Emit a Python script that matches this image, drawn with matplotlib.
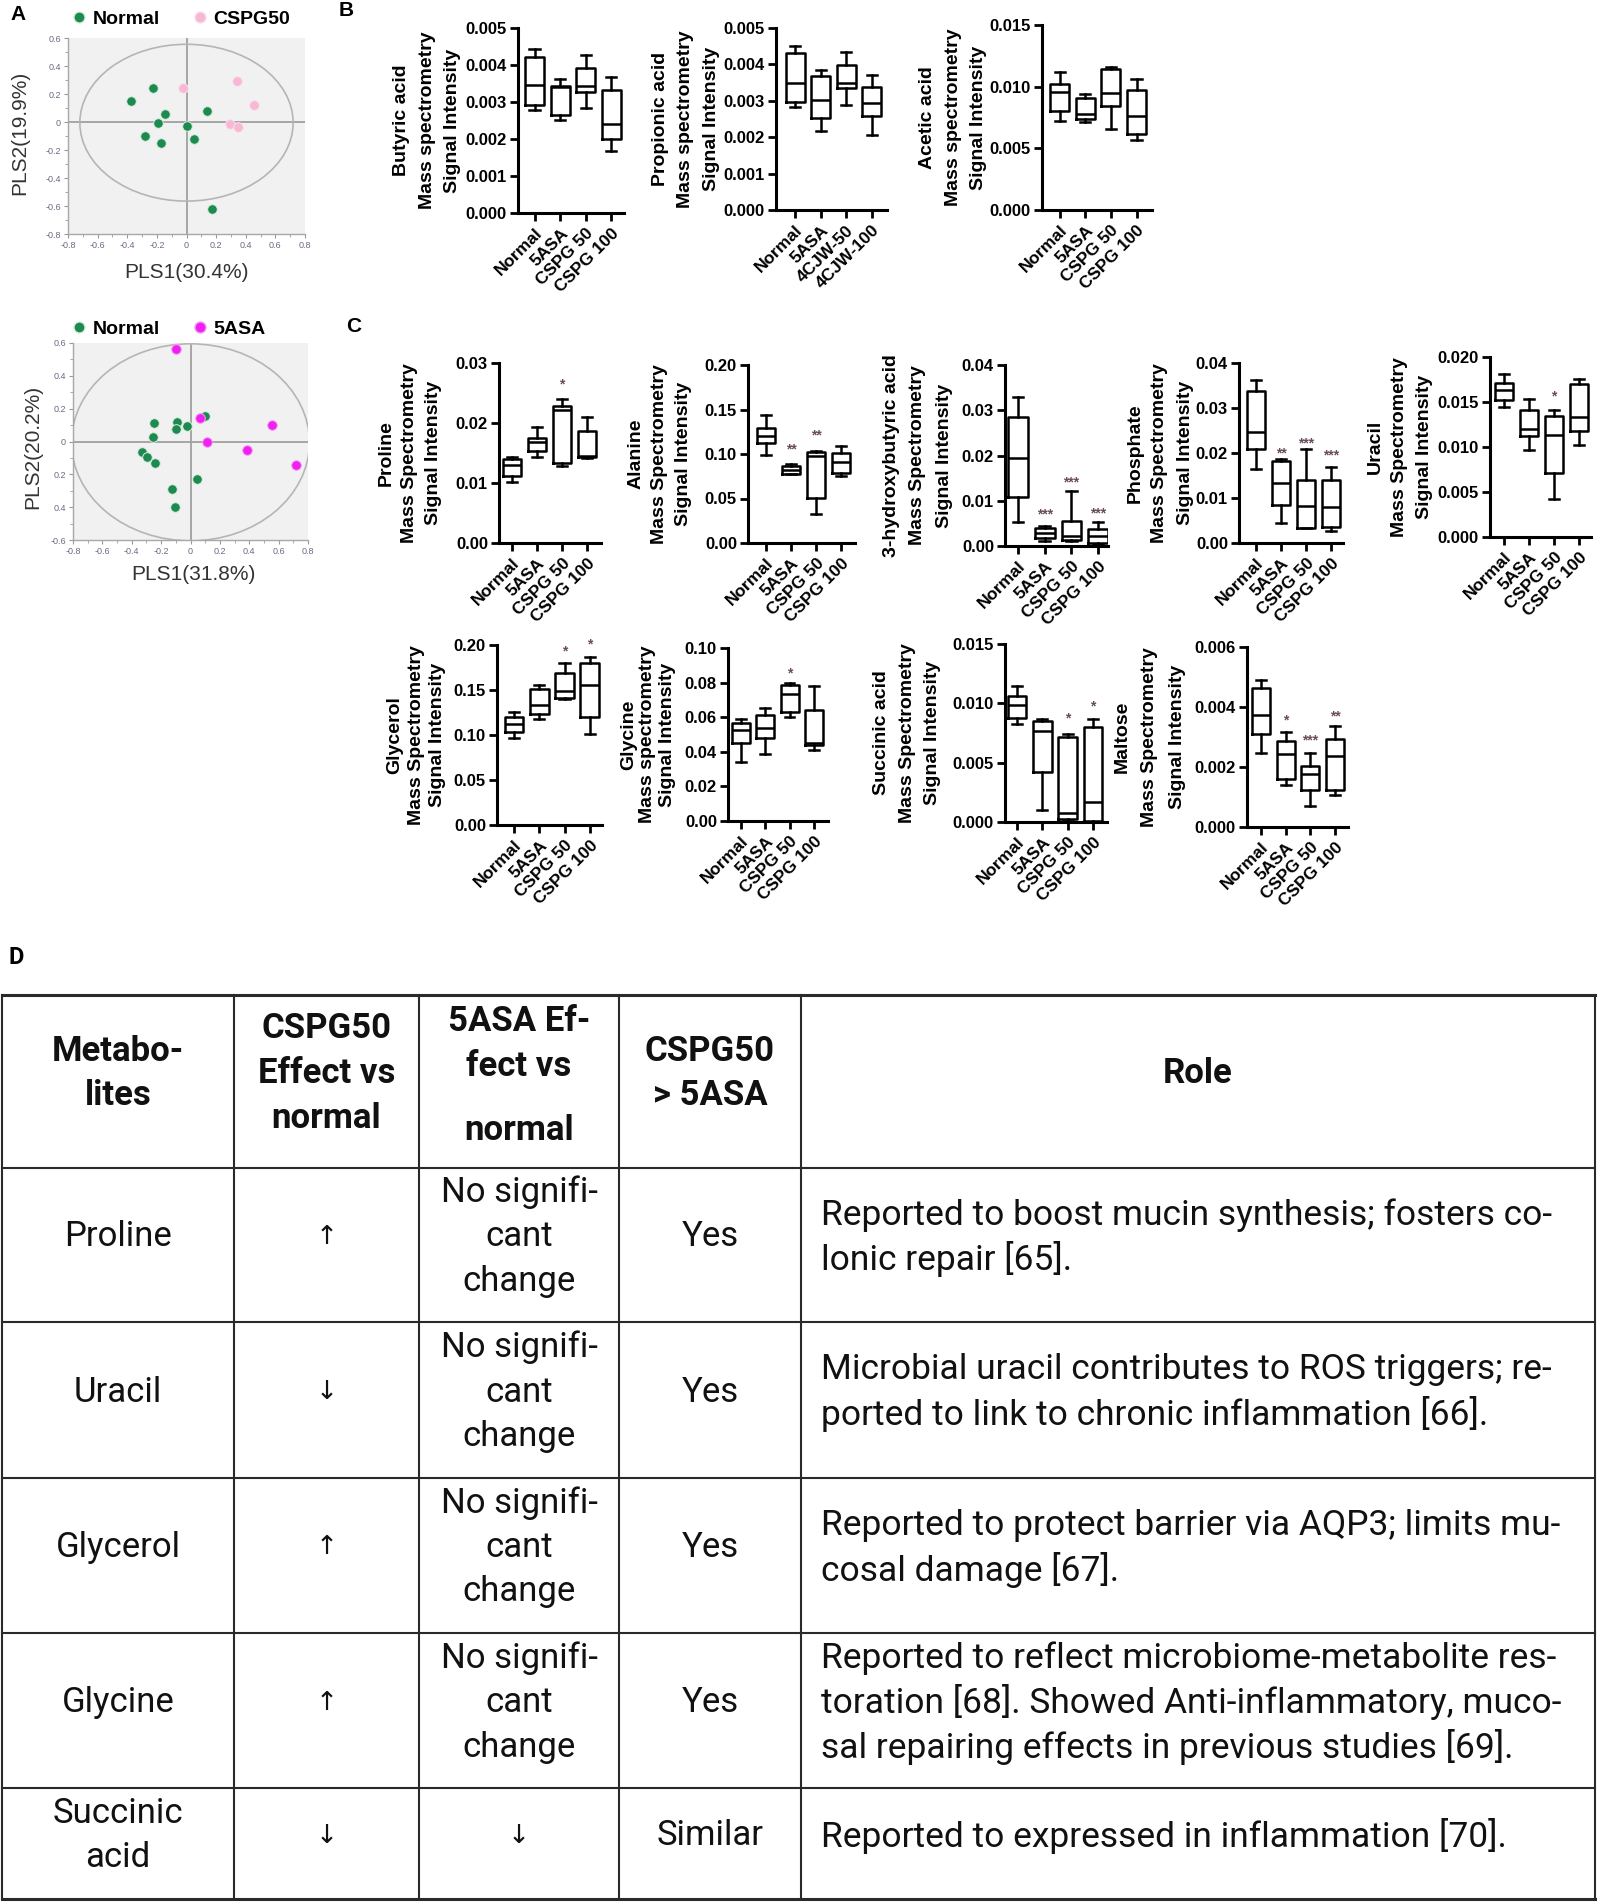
import matplotlib
matplotlib.use('Agg')
import matplotlib.pyplot as plt
from matplotlib.patches import Ellipse
from matplotlib.lines import Line2D
from matplotlib.ticker import MultipleLocator

plt.rcParams['font.family'] = ['Liberation Sans', 'DejaVu Sans']

# ---------------- Panel A data (PLS scores) ----------------
a1_normal_x = [-0.376, -0.223, -0.146, -0.194, -0.277, -0.173, 0.0, 0.054, 0.138, 0.171]
a1_normal_y = [0.149, 0.244, 0.059, -0.007, -0.098, -0.150, -0.026, -0.124, 0.078, -0.620]
a1_cspg_x = [-0.027, 0.341, 0.453, 0.293, 0.345]
a1_cspg_y = [0.244, 0.296, 0.125, -0.012, -0.038]

a2_normal_x = [-0.250, -0.093, -0.097, -0.026, 0.097, -0.255, -0.329, -0.299, -0.241, 0.042, -0.128, -0.104]
a2_normal_y = [0.114, 0.119, 0.078, 0.092, 0.153, 0.029, -0.061, -0.096, -0.133, -0.229, -0.290, -0.397]
a2_5asa_x = [-0.097, 0.065, 0.109, 0.385, 0.552, 0.719]
a2_5asa_y = [0.564, 0.143, 0.0, -0.051, 0.102, -0.141]

a_xticklabels = ['-0.8', '-0.6', '-0.4', '-0.2', '0', '0.2', '0.4', '0.6', '0.8']
a1_yticklabels = ['-0.8', '-0.6', '-0.4', '-0.2', '0', '0.2', '0.4', '0.6']
a2_yticklabels = ['-0.6', '0.4', '0.2', '0', '0.2', '0.4', '0.6']

# ---------------- Box plot data: (whislo, q1, med, q3, whishi) ----------------
groups = ['Normal', '5ASA', 'CSPG 50', 'CSPG 100']
groups_b2 = ['Normal', '5ASA', '4CJW-50', '4CJW-100']

butyric = [(0.00279, 0.00293, 0.00347, 0.00422, 0.00443), (0.00252, 0.00264, 0.00340, 0.00344, 0.00363),
           (0.00284, 0.00327, 0.00344, 0.00392, 0.00428), (0.00167, 0.00200, 0.00241, 0.00333, 0.00368)]
propionic = [(0.00283, 0.00298, 0.00349, 0.00431, 0.00450), (0.00218, 0.00252, 0.00303, 0.00367, 0.00385),
             (0.00289, 0.00335, 0.00349, 0.00399, 0.00433), (0.00206, 0.00257, 0.00294, 0.00338, 0.00372)]
acetic = [(0.0072, 0.0080, 0.0096, 0.0102, 0.0112), (0.0071, 0.0074, 0.0078, 0.0091, 0.0094),
          (0.0066, 0.0084, 0.0095, 0.0114, 0.0116), (0.0057, 0.0062, 0.0076, 0.0097, 0.0106)]
proline = [(0.0101, 0.0112, 0.0130, 0.0140, 0.0143), (0.0144, 0.0154, 0.0168, 0.0175, 0.0193),
           (0.0128, 0.0133, 0.0222, 0.0229, 0.0240), (0.0142, 0.0143, 0.0145, 0.0186, 0.0210)]
alanine = [(0.0986, 0.1118, 0.120, 0.1287, 0.1437), (0.0773, 0.078, 0.0825, 0.0866, 0.0893),
           (0.033, 0.0506, 0.0975, 0.1024, 0.1035), (0.075, 0.0788, 0.091, 0.1013, 0.1088)]
hydroxybutyric = [(0.0052, 0.0108, 0.0195, 0.0286, 0.0330), (0.0012, 0.0017, 0.0028, 0.0039, 0.0044),
                  (0.0010, 0.0013, 0.0022, 0.0055, 0.0122), (0.0004, 0.0007, 0.0021, 0.0037, 0.0052)]
phosphate = [(0.0165, 0.0208, 0.0247, 0.0337, 0.0362), (0.0045, 0.0085, 0.0133, 0.0183, 0.0187),
             (0.0033, 0.0033, 0.0083, 0.0140, 0.0210), (0.0027, 0.0035, 0.0080, 0.0140, 0.0168)]
uracil = [(0.0144, 0.0152, 0.0163, 0.0171, 0.01815), (0.0097, 0.0112, 0.0120, 0.0141, 0.0153),
          (0.0042, 0.0071, 0.0113, 0.0134, 0.0141), (0.0102, 0.0118, 0.0133, 0.0170, 0.0176)]
glycerol = [(0.0963, 0.103, 0.1122, 0.1204, 0.1259), (0.1174, 0.123, 0.1333, 0.1507, 0.1556),
            (0.1396, 0.1407, 0.1489, 0.1693, 0.1804), (0.1007, 0.1204, 0.1556, 0.1796, 0.1863)]
glycine = [(0.0340, 0.0448, 0.0525, 0.0564, 0.0587), (0.039, 0.0477, 0.0535, 0.0615, 0.0656),
           (0.0602, 0.063, 0.0733, 0.0785, 0.0798), (0.041, 0.0438, 0.0448, 0.064, 0.0783)]
succinic = [(0.0083, 0.0088, 0.0099, 0.01065, 0.0115), (0.0010, 0.0042, 0.0077, 0.0085, 0.0087),
            (0.0001, 0.00025, 0.0008, 0.0072, 0.0074), (0.0, 0.00005, 0.0017, 0.0080, 0.0087)]
maltose = [(0.00247, 0.00311, 0.00372, 0.00464, 0.0049), (0.00139, 0.00161, 0.00244, 0.00287, 0.00317),
           (0.0007, 0.00122, 0.00178, 0.00203, 0.00247), (0.00106, 0.00124, 0.00236, 0.00294, 0.00336)]

# significance marks: (group index, y value, text)
stars_proline = [(2, 0.0264, '*')]
stars_alanine = [(1, 0.105, '**'), (2, 0.121, '**')]
stars_hb = [(1, 0.0069, '***'), (2, 0.0140, '***'), (3, 0.0071, '***')]
stars_phosphate = [(1, 0.0200, '**'), (2, 0.0222, '***'), (3, 0.0195, '***')]
stars_uracil = [(2, 0.0156, '*')]
stars_glycerol = [(2, 0.193, '*'), (3, 0.2007, '*')]
stars_glycine = [(2, 0.085, '*')]
stars_succinic = [(2, 0.0087, '*'), (3, 0.0097, '*')]
stars_maltose = [(1, 0.00356, '*'), (2, 0.00287, '***'), (3, 0.0037, '**')]

# y tick values
yt_b = [0.000, 0.001, 0.002, 0.003, 0.004, 0.005]
yt_acetic = [0.000, 0.005, 0.010, 0.015]
yt_proline = [0.00, 0.01, 0.02, 0.03]
yt_alanine = [0.00, 0.05, 0.10, 0.15, 0.20]
yt_04 = [0.00, 0.01, 0.02, 0.03, 0.04]
yt_uracil = [0.000, 0.005, 0.010, 0.015, 0.020]
yt_glycerol = [0.00, 0.05, 0.10, 0.15, 0.20]
yt_glycine = [0.00, 0.02, 0.04, 0.06, 0.08, 0.10]
yt_succinic = [0.000, 0.005, 0.010, 0.015]
yt_maltose = [0.000, 0.002, 0.004, 0.006]

# ---------------- Table data ----------------
table_header = ['Metabo-\nlites', 'CSPG50\nEffect vs\nnormal', '5ASA Ef-\nfect vs\nnormal', 'CSPG50\n> 5ASA', 'Role']
table_metabolite = ['Proline', 'Uracil', 'Glycerol', 'Glycine', 'Succinic\nacid']
table_cspg50 = ['\u2191', '\u2193', '\u2191', '\u2191', '\u2193']
table_5asa = ['No signifi-\ncant\nchange', 'No signifi-\ncant\nchange', 'No signifi-\ncant\nchange',
              'No signifi-\ncant\nchange', '\u2193']
table_compare = ['Yes', 'Yes', 'Yes', 'Yes', 'Similar']
table_role = ['Reported to boost mucin synthesis; fosters co-\nlonic repair [65].',
              'Microbial uracil contributes to ROS triggers; re-\nported to link to chronic inflammation [66].',
              'Reported to protect barrier via AQP3; limits mu-\ncosal damage [67].',
              'Reported to reflect microbiome-metabolite res-\ntoration [68]. Showed Anti-inflammatory, muco-\nsal repairing effects in previous studies [69].',
              'Reported to expressed in inflammation [70].']

# ---------------- figure ----------------
W, H = 1599, 1902
fig = plt.figure(figsize=(W / 100, H / 100), dpi=100)
fig.patch.set_facecolor('white')


def add_ax(x0, y0, x1, y1):
    return fig.add_axes([x0 / W, 1 - y1 / H, (x1 - x0) / W, (y1 - y0) / H])


def ftext(x, y, s, **kw):
    return fig.text(x / W, 1 - y / H, s, **kw)


GREEN = '#1f8a4f'


def pls_panel(box, nx, ny, ox, oy, ocolor, oedge, olabel, ylim, yticklabels, ell, xlab, xlab_pos,
              ylab, ylab_pos, leg_anchor):
    ax = add_ax(*box)
    ax.set_facecolor('#f1f1f1')
    ax.set_xlim(-0.8, 0.8)
    ax.set_ylim(*ylim)
    ax.axhline(0, color='#a0a0a0', lw=1.3, zorder=1)
    ax.axvline(0, color='#a0a0a0', lw=1.3, zorder=1)
    ax.add_patch(Ellipse((0, -0.005), ell[0], ell[1], fill=False, ec='#b5b5b5', lw=1.2, zorder=1))
    ax.scatter(nx, ny, s=48, color=GREEN, edgecolors='#d8efe0', linewidths=0.7, zorder=3)
    ax.scatter(ox, oy, s=48, color=ocolor, edgecolors=oedge, linewidths=0.7, zorder=3)
    ax.xaxis.set_minor_locator(MultipleLocator(0.1))
    ax.yaxis.set_minor_locator(MultipleLocator(0.1))
    ax.set_xticks([-0.8 + 0.2 * i for i in range(9)])
    ax.set_xticklabels(a_xticklabels)
    yt = [ylim[0] + 0.2 * i for i in range(len(yticklabels))]
    ax.set_yticks(yt)
    ax.set_yticklabels(yticklabels)
    for s in ['top', 'right']:
        ax.spines[s].set_visible(False)
    for s in ['left', 'bottom']:
        ax.spines[s].set_color('#a8a8a8')
        ax.spines[s].set_linewidth(1.0)
    ax.tick_params(which='major', length=3, width=0.8, color='#999999', labelsize=6.5,
                   labelcolor='#6b6b85', pad=2)
    ax.tick_params(which='minor', length=2, width=0.6, color='#999999')
    handles = [Line2D([], [], marker='o', ls='', color=GREEN, ms=8, mec='#d8efe0'),
               Line2D([], [], marker='o', ls='', color=ocolor, ms=8, mec=oedge)]
    ax.legend(handles, ['Normal', olabel], ncol=2, loc='center left', bbox_to_anchor=leg_anchor,
              frameon=False, prop=dict(weight='bold', size=14), handletextpad=0.25,
              columnspacing=1.6, handlelength=0.9, borderaxespad=0, borderpad=0)
    ftext(xlab_pos[0], xlab_pos[1], xlab, ha='center', va='center', fontsize=15, color='#333333')
    ftext(ylab_pos[0], ylab_pos[1], ylab, ha='center', va='center', fontsize=15, color='#333333',
          rotation=90)


pls_panel((68, 38, 305, 234), a1_normal_x, a1_normal_y, a1_cspg_x, a1_cspg_y, '#f6b8d4', '#fbe0ec',
          'CSPG50', (-0.8, 0.6), a1_yticklabels, (1.44, 1.12), 'PLS1(30.4%)', (187, 272),
          'PLS2(19.9%)', (20, 133), (0.01, 1.095))
pls_panel((73, 343, 308, 540), a2_normal_x, a2_normal_y, a2_5asa_x, a2_5asa_y, '#f020f0', '#f7a0f7',
          '5ASA', (-0.6, 0.6), a2_yticklabels, (1.62, 1.2), 'PLS1(31.8%)', (193, 575),
          'PLS2(20.2%)', (33, 447), (-0.01, 1.07))


def box_panel(box, xlim, stats, yticks, ndec, ylabel, label_x, label_step, xlabels, stars=()):
    ax = add_ax(*box)
    st = [dict(whislo=s[0], q1=s[1], med=s[2], q3=s[3], whishi=s[4]) for s in stats]
    lw = 1.8
    ax.bxp(st, positions=list(range(len(st))), widths=0.74, capwidths=0.4, showfliers=False,
           boxprops=dict(color='black', lw=lw), whiskerprops=dict(color='black', lw=lw),
           capprops=dict(color='black', lw=lw), medianprops=dict(color='black', lw=lw),
           manage_ticks=False)
    ax.set_xlim(*xlim)
    ax.set_ylim(0, yticks[-1])
    ax.set_yticks(yticks)
    ax.set_yticklabels([('{:.%df}' % ndec).format(v) for v in yticks])
    ax.set_xticks(list(range(len(xlabels))))
    ax.set_xticklabels(xlabels, rotation=45, ha='right', rotation_mode='anchor')
    for s in ['top', 'right']:
        ax.spines[s].set_visible(False)
    for s in ['left', 'bottom']:
        ax.spines[s].set_linewidth(2.2)
    ax.tick_params(axis='both', length=6, width=2.0, labelsize=12, pad=2)
    ax.tick_params(axis='x', labelsize=12.5, pad=3)
    for lbl in ax.get_xticklabels() + ax.get_yticklabels():
        lbl.set_fontweight('bold')
    for gi, yv, txt in stars:
        ax.text(gi, yv, txt, ha='center', va='center', fontsize=10, fontweight='bold',
                color='#6a4c5c', clip_on=False)
    yc = (box[1] + box[3]) / 2
    ftext(label_x, yc, ylabel, rotation=90, ha='center', va='center', fontsize=14,
          fontweight='bold', linespacing=label_step / 14.5, multialignment='center')
    return ax


# Panel B
box_panel((518, 28, 624, 213), (-0.65, 3.5), butyric, yt_b, 3,
          'Butyric acid\nMass spectrometry\nSignal Intensity', 427, 23.5, groups)
box_panel((776, 28, 887, 210), (-0.75, 3.6), propionic, yt_b, 3,
          'Propionic acid\nMass spectrometry\nSignal Intensity', 686, 23.5, groups_b2)
box_panel((1042, 25, 1152, 210), (-0.69, 3.6), acetic, yt_acetic, 3,
          'Acetic acid\nMass spectrometry\nSignal Intensity', 953, 23.5, groups)

# Panel C row 1
box_panel((499, 363, 601, 543), (-0.52, 3.56), proline, yt_proline, 2,
          'Proline\nMass Spectrometry\nSignal Intensity', 410, 21.5, groups, stars_proline)
box_panel((748, 365, 855, 543), (-0.72, 3.56), alanine, yt_alanine, 2,
          'Alanine\nMass Spectrometry\nSignal Intensity', 660, 22, groups, stars_alanine)
box_panel((1005, 365, 1108, 546), (-0.49, 3.37), hydroxybutyric, yt_04, 2,
          '3-hydroxybutyric acid\nMass Spectrometry\nSignal Intensity', 918, 25, groups, stars_hb)
box_panel((1239, 363, 1343, 543), (-0.68, 3.48), phosphate, yt_04, 2,
          'Phosphate\nMass Spectrometry\nSignal Intensity', 1160, 23.5, groups, stars_phosphate)
box_panel((1490, 357, 1591, 537), (-0.56, 3.48), uracil, yt_uracil, 3,
          'Uracil\nMass Spectrometry\nSignal Intensity', 1400, 23, groups, stars_uracil)

# Panel C row 2
box_panel((497, 645, 602, 825), (-0.67, 3.48), glycerol, yt_glycerol, 2,
          'Glycerol\nMass Spectrometry\nSignal Intensity', 416, 19, groups, stars_glycerol)
box_panel((728, 648, 828, 821), (-0.53, 3.58), glycine, yt_glycine, 2,
          'Glycine\nMass spectrometry\nSignal Intensity', 648, 17.5, groups, stars_glycine)
box_panel((1005, 644, 1107, 822), (-0.47, 3.55), succinic, yt_succinic, 3,
          'Succinic acid\nMass Spectrometry\nSignal Intensity', 907, 24.5, groups, stars_succinic)
box_panel((1247, 647, 1348, 827), (-0.57, 3.53), maltose, yt_maltose, 3,
          'Maltose\nMass Spectrometry\nSignal Intensity', 1150, 26, groups, stars_maltose)

# Panel letters
ftext(18, 14, 'A', fontsize=15, fontweight='bold', ha='center', va='center')
ftext(346, 11, 'B', fontsize=15, fontweight='bold', ha='center', va='center')
ftext(354, 327, 'C', fontsize=15, fontweight='bold', ha='center', va='center')
ftext(16, 958, 'D', fontsize=17, fontweight='bold', ha='center', va='center',
      family=['Roboto', 'DejaVu Sans'])

# ---------------- Table (panel D) ----------------
col_x = [2, 234, 419, 619, 801, 1595]
row_y = [995, 1168, 1322, 1478, 1633, 1788, 1899]
for x in col_x:
    fig.add_artist(Line2D([x / W, x / W], [1 - row_y[0] / H, 1 - row_y[-1] / H],
                          transform=fig.transFigure, color='#2a2a2a', lw=1.5))
for i, y in enumerate(row_y):
    fig.add_artist(Line2D([col_x[0] / W, col_x[-1] / W], [1 - y / H, 1 - y / H],
                          transform=fig.transFigure, color='#2a2a2a',
                          lw=2.2 if i in (0, len(row_y) - 1) else 1.5))

TFONT = ['Roboto', 'DejaVu Sans']
LS = 44.5
YOFF = -8


def cell_lines(xc, yc, txt, ha='center', fs=25, weight='normal', offsets=None):
    lines = txt.split('\n')
    n = len(lines)
    for i, ln in enumerate(lines):
        dy = offsets[i] if offsets is not None else (i - (n - 1) / 2) * LS
        ftext(xc, yc + YOFF + dy, ln, ha=ha, va='center', fontsize=fs, fontweight=weight,
              family=TFONT, color='#111111')


col_c = [(col_x[i] + col_x[i + 1]) / 2 for i in range(5)]
hy = (row_y[0] + row_y[1]) / 2
for ci, txt in enumerate(table_header):
    offs = [-52, -7, 57] if ci == 2 else None
    cell_lines(col_c[ci], hy, txt, fs=25, weight='bold', offsets=offs)

for ri in range(5):
    yc = (row_y[ri + 1] + row_y[ri + 2]) / 2
    cell_lines(col_c[0], yc, table_metabolite[ri])
    cell_lines(col_c[1], yc, table_cspg50[ri], fs=19)
    cell_lines(col_c[2], yc, table_5asa[ri], fs=25 if len(table_5asa[ri]) > 2 else 19)
    cell_lines(col_c[3], yc, table_compare[ri])
    cell_lines(821, yc, table_role[ri], ha='left', fs=25.5)

fig.savefig('out.png', dpi=100, facecolor='white')
